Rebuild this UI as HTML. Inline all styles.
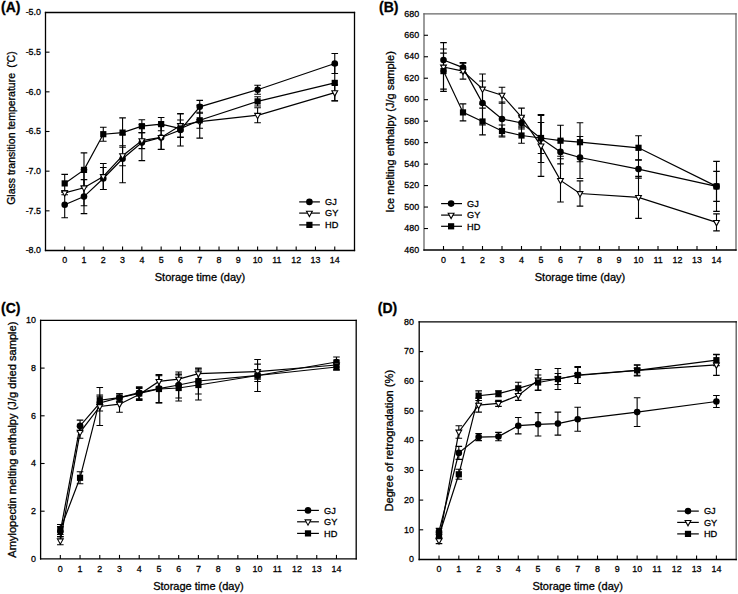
<!DOCTYPE html>
<html><head><meta charset="utf-8"><title>Chart</title>
<style>
html,body{margin:0;padding:0;background:#fff;}
svg{display:block;}
text{font-family:"Liberation Sans", sans-serif;fill:#000;stroke:#000;stroke-width:0.3px;}
</style></head>
<body>
<svg width="738" height="594" viewBox="0 0 738 594">
<rect width="738" height="594" fill="#fff"/>
<line x1="45.5" y1="11.85" x2="45.5" y2="251.15" stroke="#000" stroke-width="1.3"/>
<line x1="354.5" y1="11.85" x2="354.5" y2="251.15" stroke="#000" stroke-width="1.3"/>
<line x1="44.85" y1="12.5" x2="355.15" y2="12.5" stroke="#000" stroke-width="1.3"/>
<line x1="44.85" y1="250.5" x2="355.15" y2="250.5" stroke="#000" stroke-width="1.3"/>
<line x1="64.70" y1="250.5" x2="64.70" y2="246.5" stroke="#000" stroke-width="1.1"/>
<text transform="translate(64.70 262.6) scale(0.9 1)" font-size="9.9" text-anchor="middle">0</text>
<line x1="83.99" y1="250.5" x2="83.99" y2="246.5" stroke="#000" stroke-width="1.1"/>
<text transform="translate(83.99 262.6) scale(0.9 1)" font-size="9.9" text-anchor="middle">1</text>
<line x1="103.28" y1="250.5" x2="103.28" y2="246.5" stroke="#000" stroke-width="1.1"/>
<text transform="translate(103.28 262.6) scale(0.9 1)" font-size="9.9" text-anchor="middle">2</text>
<line x1="122.57" y1="250.5" x2="122.57" y2="246.5" stroke="#000" stroke-width="1.1"/>
<text transform="translate(122.57 262.6) scale(0.9 1)" font-size="9.9" text-anchor="middle">3</text>
<line x1="141.86" y1="250.5" x2="141.86" y2="246.5" stroke="#000" stroke-width="1.1"/>
<text transform="translate(141.86 262.6) scale(0.9 1)" font-size="9.9" text-anchor="middle">4</text>
<line x1="161.15" y1="250.5" x2="161.15" y2="246.5" stroke="#000" stroke-width="1.1"/>
<text transform="translate(161.15 262.6) scale(0.9 1)" font-size="9.9" text-anchor="middle">5</text>
<line x1="180.44" y1="250.5" x2="180.44" y2="246.5" stroke="#000" stroke-width="1.1"/>
<text transform="translate(180.44 262.6) scale(0.9 1)" font-size="9.9" text-anchor="middle">6</text>
<line x1="199.73" y1="250.5" x2="199.73" y2="246.5" stroke="#000" stroke-width="1.1"/>
<text transform="translate(199.73 262.6) scale(0.9 1)" font-size="9.9" text-anchor="middle">7</text>
<line x1="219.02" y1="250.5" x2="219.02" y2="246.5" stroke="#000" stroke-width="1.1"/>
<text transform="translate(219.02 262.6) scale(0.9 1)" font-size="9.9" text-anchor="middle">8</text>
<line x1="238.31" y1="250.5" x2="238.31" y2="246.5" stroke="#000" stroke-width="1.1"/>
<text transform="translate(238.31 262.6) scale(0.9 1)" font-size="9.9" text-anchor="middle">9</text>
<line x1="257.60" y1="250.5" x2="257.60" y2="246.5" stroke="#000" stroke-width="1.1"/>
<text transform="translate(257.60 262.6) scale(0.9 1)" font-size="9.9" text-anchor="middle">10</text>
<line x1="276.89" y1="250.5" x2="276.89" y2="246.5" stroke="#000" stroke-width="1.1"/>
<text transform="translate(276.89 262.6) scale(0.9 1)" font-size="9.9" text-anchor="middle">11</text>
<line x1="296.18" y1="250.5" x2="296.18" y2="246.5" stroke="#000" stroke-width="1.1"/>
<text transform="translate(296.18 262.6) scale(0.9 1)" font-size="9.9" text-anchor="middle">12</text>
<line x1="315.47" y1="250.5" x2="315.47" y2="246.5" stroke="#000" stroke-width="1.1"/>
<text transform="translate(315.47 262.6) scale(0.9 1)" font-size="9.9" text-anchor="middle">13</text>
<line x1="334.76" y1="250.5" x2="334.76" y2="246.5" stroke="#000" stroke-width="1.1"/>
<text transform="translate(334.76 262.6) scale(0.9 1)" font-size="9.9" text-anchor="middle">14</text>
<text transform="translate(41 15.20) scale(0.9 1)" font-size="9.9" text-anchor="end">-5.0</text>
<line x1="45.5" y1="52.17" x2="49.5" y2="52.17" stroke="#000" stroke-width="1.1"/>
<text transform="translate(41 54.87) scale(0.9 1)" font-size="9.9" text-anchor="end">-5.5</text>
<line x1="45.5" y1="91.83" x2="49.5" y2="91.83" stroke="#000" stroke-width="1.1"/>
<text transform="translate(41 94.53) scale(0.9 1)" font-size="9.9" text-anchor="end">-6.0</text>
<line x1="45.5" y1="131.50" x2="49.5" y2="131.50" stroke="#000" stroke-width="1.1"/>
<text transform="translate(41 134.20) scale(0.9 1)" font-size="9.9" text-anchor="end">-6.5</text>
<line x1="45.5" y1="171.17" x2="49.5" y2="171.17" stroke="#000" stroke-width="1.1"/>
<text transform="translate(41 173.87) scale(0.9 1)" font-size="9.9" text-anchor="end">-7.0</text>
<line x1="45.5" y1="210.83" x2="49.5" y2="210.83" stroke="#000" stroke-width="1.1"/>
<text transform="translate(41 213.53) scale(0.9 1)" font-size="9.9" text-anchor="end">-7.5</text>
<text transform="translate(41 253.20) scale(0.9 1)" font-size="9.9" text-anchor="end">-8.0</text>
<text x="200.00" y="281" font-size="11" text-anchor="middle">Storage time (day)</text>
<text transform="translate(14.5,128.10) rotate(-90)" font-size="10.5" text-anchor="middle">Glass transition temperature <tspan dx="2.3">(</tspan><tspan font-size="6" dy="-3.2">°</tspan><tspan dx="-0.6" dy="3.2">C)</tspan></text>
<text x="1.0" y="11.8" font-size="14" font-weight="bold" stroke-width="0">(A)</text>
<path d="M64.70,191.70 V217.70 M61.40,191.70 H68.00 M61.40,217.70 H68.00" stroke="#000" stroke-width="1.1" fill="none"/>
<path d="M83.99,179.60 V213.60 M80.69,179.60 H87.29 M80.69,213.60 H87.29" stroke="#000" stroke-width="1.1" fill="none"/>
<path d="M103.28,167.50 V189.50 M99.98,167.50 H106.58 M99.98,189.50 H106.58" stroke="#000" stroke-width="1.1" fill="none"/>
<path d="M122.57,134.80 V182.80 M119.27,134.80 H125.87 M119.27,182.80 H125.87" stroke="#000" stroke-width="1.1" fill="none"/>
<path d="M141.86,124.60 V160.60 M138.56,124.60 H145.16 M138.56,160.60 H145.16" stroke="#000" stroke-width="1.1" fill="none"/>
<path d="M161.15,125.50 V149.50 M157.85,125.50 H164.45 M157.85,149.50 H164.45" stroke="#000" stroke-width="1.1" fill="none"/>
<path d="M180.44,114.00 V146.00 M177.14,114.00 H183.74 M177.14,146.00 H183.74" stroke="#000" stroke-width="1.1" fill="none"/>
<path d="M199.73,100.40 V113.20 M196.43,100.40 H203.03 M196.43,113.20 H203.03" stroke="#000" stroke-width="1.1" fill="none"/>
<path d="M257.60,85.20 V94.20 M254.30,85.20 H260.90 M254.30,94.20 H260.90" stroke="#000" stroke-width="1.1" fill="none"/>
<path d="M334.76,53.50 V73.50 M331.46,53.50 H338.06 M331.46,73.50 H338.06" stroke="#000" stroke-width="1.1" fill="none"/>
<path d="M64.70,190.80 V194.80 M61.40,190.80 H68.00 M61.40,194.80 H68.00" stroke="#000" stroke-width="1.1" fill="none"/>
<path d="M83.99,169.80 V205.80 M80.69,169.80 H87.29 M80.69,205.80 H87.29" stroke="#000" stroke-width="1.1" fill="none"/>
<path d="M103.28,163.50 V189.50 M99.98,163.50 H106.58 M99.98,189.50 H106.58" stroke="#000" stroke-width="1.1" fill="none"/>
<path d="M122.57,145.70 V165.70 M119.27,145.70 H125.87 M119.27,165.70 H125.87" stroke="#000" stroke-width="1.1" fill="none"/>
<path d="M141.86,132.60 V148.60 M138.56,132.60 H145.16 M138.56,148.60 H145.16" stroke="#000" stroke-width="1.1" fill="none"/>
<path d="M161.15,125.40 V149.40 M157.85,125.40 H164.45 M157.85,149.40 H164.45" stroke="#000" stroke-width="1.1" fill="none"/>
<path d="M180.44,113.50 V137.50 M177.14,113.50 H183.74 M177.14,137.50 H183.74" stroke="#000" stroke-width="1.1" fill="none"/>
<path d="M199.73,105.10 V138.10 M196.43,105.10 H203.03 M196.43,138.10 H203.03" stroke="#000" stroke-width="1.1" fill="none"/>
<path d="M257.60,107.80 V122.80 M254.30,107.80 H260.90 M254.30,122.80 H260.90" stroke="#000" stroke-width="1.1" fill="none"/>
<path d="M334.76,84.70 V100.70 M331.46,84.70 H338.06 M331.46,100.70 H338.06" stroke="#000" stroke-width="1.1" fill="none"/>
<path d="M64.70,174.40 V192.40 M61.40,174.40 H68.00 M61.40,192.40 H68.00" stroke="#000" stroke-width="1.1" fill="none"/>
<path d="M83.99,152.90 V186.90 M80.69,152.90 H87.29 M80.69,186.90 H87.29" stroke="#000" stroke-width="1.1" fill="none"/>
<path d="M103.28,127.20 V141.20 M99.98,127.20 H106.58 M99.98,141.20 H106.58" stroke="#000" stroke-width="1.1" fill="none"/>
<path d="M122.57,117.90 V147.30 M119.27,117.90 H125.87 M119.27,147.30 H125.87" stroke="#000" stroke-width="1.1" fill="none"/>
<path d="M141.86,119.80 V132.60 M138.56,119.80 H145.16 M138.56,132.60 H145.16" stroke="#000" stroke-width="1.1" fill="none"/>
<path d="M161.15,117.50 V130.70 M157.85,117.50 H164.45 M157.85,130.70 H164.45" stroke="#000" stroke-width="1.1" fill="none"/>
<path d="M180.44,120.00 V137.00 M177.14,120.00 H183.74 M177.14,137.00 H183.74" stroke="#000" stroke-width="1.1" fill="none"/>
<path d="M199.73,112.30 V128.30 M196.43,112.30 H203.03 M196.43,128.30 H203.03" stroke="#000" stroke-width="1.1" fill="none"/>
<path d="M257.60,96.80 V106.00 M254.30,96.80 H260.90 M254.30,106.00 H260.90" stroke="#000" stroke-width="1.1" fill="none"/>
<path d="M334.76,64.90 V100.90 M331.46,64.90 H338.06 M331.46,100.90 H338.06" stroke="#000" stroke-width="1.1" fill="none"/>
<polyline points="64.70,204.70 83.99,196.60 103.28,178.50 122.57,158.80 141.86,142.60 161.15,137.50 180.44,130.00 199.73,106.80 257.60,89.70 334.76,63.50" fill="none" stroke="#000" stroke-width="1.2"/>
<polyline points="64.70,192.80 83.99,187.80 103.28,176.50 122.57,155.70 141.86,140.60 161.15,137.40 180.44,125.50 199.73,121.60 257.60,115.30 334.76,92.70" fill="none" stroke="#000" stroke-width="1.2"/>
<polyline points="64.70,183.40 83.99,169.90 103.28,134.20 122.57,132.60 141.86,126.20 161.15,124.10 180.44,128.50 199.73,120.30 257.60,101.40 334.76,82.90" fill="none" stroke="#000" stroke-width="1.2"/>
<circle cx="64.70" cy="204.70" r="3.3" fill="#000"/>
<circle cx="83.99" cy="196.60" r="3.3" fill="#000"/>
<circle cx="103.28" cy="178.50" r="3.3" fill="#000"/>
<circle cx="122.57" cy="158.80" r="3.3" fill="#000"/>
<circle cx="141.86" cy="142.60" r="3.3" fill="#000"/>
<circle cx="161.15" cy="137.50" r="3.3" fill="#000"/>
<circle cx="180.44" cy="130.00" r="3.3" fill="#000"/>
<circle cx="199.73" cy="106.80" r="3.3" fill="#000"/>
<circle cx="257.60" cy="89.70" r="3.3" fill="#000"/>
<circle cx="334.76" cy="63.50" r="3.3" fill="#000"/>
<path d="M61.80,190.90 L67.60,190.90 L64.70,196.20 Z" fill="#fff" stroke="#000" stroke-width="1.1"/>
<path d="M81.09,185.90 L86.89,185.90 L83.99,191.20 Z" fill="#fff" stroke="#000" stroke-width="1.1"/>
<path d="M100.38,174.60 L106.18,174.60 L103.28,179.90 Z" fill="#fff" stroke="#000" stroke-width="1.1"/>
<path d="M119.67,153.80 L125.47,153.80 L122.57,159.10 Z" fill="#fff" stroke="#000" stroke-width="1.1"/>
<path d="M138.96,138.70 L144.76,138.70 L141.86,144.00 Z" fill="#fff" stroke="#000" stroke-width="1.1"/>
<path d="M158.25,135.50 L164.05,135.50 L161.15,140.80 Z" fill="#fff" stroke="#000" stroke-width="1.1"/>
<path d="M177.54,123.60 L183.34,123.60 L180.44,128.90 Z" fill="#fff" stroke="#000" stroke-width="1.1"/>
<path d="M196.83,119.70 L202.63,119.70 L199.73,125.00 Z" fill="#fff" stroke="#000" stroke-width="1.1"/>
<path d="M254.70,113.40 L260.50,113.40 L257.60,118.70 Z" fill="#fff" stroke="#000" stroke-width="1.1"/>
<path d="M331.86,90.80 L337.66,90.80 L334.76,96.10 Z" fill="#fff" stroke="#000" stroke-width="1.1"/>
<rect x="61.60" y="180.30" width="6.20" height="6.20" fill="#000"/>
<rect x="80.89" y="166.80" width="6.20" height="6.20" fill="#000"/>
<rect x="100.18" y="131.10" width="6.20" height="6.20" fill="#000"/>
<rect x="119.47" y="129.50" width="6.20" height="6.20" fill="#000"/>
<rect x="138.76" y="123.10" width="6.20" height="6.20" fill="#000"/>
<rect x="158.05" y="121.00" width="6.20" height="6.20" fill="#000"/>
<rect x="177.34" y="125.40" width="6.20" height="6.20" fill="#000"/>
<rect x="196.63" y="117.20" width="6.20" height="6.20" fill="#000"/>
<rect x="254.50" y="98.30" width="6.20" height="6.20" fill="#000"/>
<rect x="331.66" y="79.80" width="6.20" height="6.20" fill="#000"/>
<line x1="299.2" y1="201.9" x2="319.9" y2="201.9" stroke="#000" stroke-width="1.2"/>
<circle cx="309.40" cy="201.90" r="3.3" fill="#000"/>
<text x="325" y="205.20" font-size="9.2">GJ</text>
<line x1="299.2" y1="213.1" x2="319.9" y2="213.1" stroke="#000" stroke-width="1.2"/>
<path d="M306.50,211.20 L312.30,211.20 L309.40,216.50 Z" fill="#fff" stroke="#000" stroke-width="1.1"/>
<text x="325" y="216.40" font-size="9.2">GY</text>
<line x1="299.2" y1="224.9" x2="319.9" y2="224.9" stroke="#000" stroke-width="1.2"/>
<rect x="306.30" y="221.80" width="6.20" height="6.20" fill="#000"/>
<text x="325" y="228.20" font-size="9.2">HD</text>
<line x1="424.0" y1="13.15" x2="424.0" y2="250.65" stroke="#666" stroke-width="1.3"/>
<line x1="736" y1="13.15" x2="736" y2="250.65" stroke="#666" stroke-width="1.3"/>
<line x1="423.35" y1="13.8" x2="736.65" y2="13.8" stroke="#666" stroke-width="1.3"/>
<line x1="423.35" y1="250" x2="736.65" y2="250" stroke="#000" stroke-width="1.3"/>
<line x1="443.50" y1="250" x2="443.50" y2="246" stroke="#000" stroke-width="1.1"/>
<text transform="translate(443.50 262.7) scale(0.9 1)" font-size="9.9" text-anchor="middle">0</text>
<line x1="463.00" y1="250" x2="463.00" y2="246" stroke="#000" stroke-width="1.1"/>
<text transform="translate(463.00 262.7) scale(0.9 1)" font-size="9.9" text-anchor="middle">1</text>
<line x1="482.50" y1="250" x2="482.50" y2="246" stroke="#000" stroke-width="1.1"/>
<text transform="translate(482.50 262.7) scale(0.9 1)" font-size="9.9" text-anchor="middle">2</text>
<line x1="502.00" y1="250" x2="502.00" y2="246" stroke="#000" stroke-width="1.1"/>
<text transform="translate(502.00 262.7) scale(0.9 1)" font-size="9.9" text-anchor="middle">3</text>
<line x1="521.50" y1="250" x2="521.50" y2="246" stroke="#000" stroke-width="1.1"/>
<text transform="translate(521.50 262.7) scale(0.9 1)" font-size="9.9" text-anchor="middle">4</text>
<line x1="541.00" y1="250" x2="541.00" y2="246" stroke="#000" stroke-width="1.1"/>
<text transform="translate(541.00 262.7) scale(0.9 1)" font-size="9.9" text-anchor="middle">5</text>
<line x1="560.50" y1="250" x2="560.50" y2="246" stroke="#000" stroke-width="1.1"/>
<text transform="translate(560.50 262.7) scale(0.9 1)" font-size="9.9" text-anchor="middle">6</text>
<line x1="580.00" y1="250" x2="580.00" y2="246" stroke="#000" stroke-width="1.1"/>
<text transform="translate(580.00 262.7) scale(0.9 1)" font-size="9.9" text-anchor="middle">7</text>
<line x1="599.50" y1="250" x2="599.50" y2="246" stroke="#000" stroke-width="1.1"/>
<text transform="translate(599.50 262.7) scale(0.9 1)" font-size="9.9" text-anchor="middle">8</text>
<line x1="619.00" y1="250" x2="619.00" y2="246" stroke="#000" stroke-width="1.1"/>
<text transform="translate(619.00 262.7) scale(0.9 1)" font-size="9.9" text-anchor="middle">9</text>
<line x1="638.50" y1="250" x2="638.50" y2="246" stroke="#000" stroke-width="1.1"/>
<text transform="translate(638.50 262.7) scale(0.9 1)" font-size="9.9" text-anchor="middle">10</text>
<line x1="658.00" y1="250" x2="658.00" y2="246" stroke="#000" stroke-width="1.1"/>
<text transform="translate(658.00 262.7) scale(0.9 1)" font-size="9.9" text-anchor="middle">11</text>
<line x1="677.50" y1="250" x2="677.50" y2="246" stroke="#000" stroke-width="1.1"/>
<text transform="translate(677.50 262.7) scale(0.9 1)" font-size="9.9" text-anchor="middle">12</text>
<line x1="697.00" y1="250" x2="697.00" y2="246" stroke="#000" stroke-width="1.1"/>
<text transform="translate(697.00 262.7) scale(0.9 1)" font-size="9.9" text-anchor="middle">13</text>
<line x1="716.50" y1="250" x2="716.50" y2="246" stroke="#000" stroke-width="1.1"/>
<text transform="translate(716.50 262.7) scale(0.9 1)" font-size="9.9" text-anchor="middle">14</text>
<text transform="translate(419.2 16.50) scale(0.9 1)" font-size="9.9" text-anchor="end">680</text>
<line x1="424.0" y1="35.27" x2="428.0" y2="35.27" stroke="#000" stroke-width="1.1"/>
<text transform="translate(419.2 37.97) scale(0.9 1)" font-size="9.9" text-anchor="end">660</text>
<line x1="424.0" y1="56.75" x2="428.0" y2="56.75" stroke="#000" stroke-width="1.1"/>
<text transform="translate(419.2 59.45) scale(0.9 1)" font-size="9.9" text-anchor="end">640</text>
<line x1="424.0" y1="78.22" x2="428.0" y2="78.22" stroke="#000" stroke-width="1.1"/>
<text transform="translate(419.2 80.92) scale(0.9 1)" font-size="9.9" text-anchor="end">620</text>
<line x1="424.0" y1="99.69" x2="428.0" y2="99.69" stroke="#000" stroke-width="1.1"/>
<text transform="translate(419.2 102.39) scale(0.9 1)" font-size="9.9" text-anchor="end">600</text>
<line x1="424.0" y1="121.16" x2="428.0" y2="121.16" stroke="#000" stroke-width="1.1"/>
<text transform="translate(419.2 123.86) scale(0.9 1)" font-size="9.9" text-anchor="end">580</text>
<line x1="424.0" y1="142.64" x2="428.0" y2="142.64" stroke="#000" stroke-width="1.1"/>
<text transform="translate(419.2 145.34) scale(0.9 1)" font-size="9.9" text-anchor="end">560</text>
<line x1="424.0" y1="164.11" x2="428.0" y2="164.11" stroke="#000" stroke-width="1.1"/>
<text transform="translate(419.2 166.81) scale(0.9 1)" font-size="9.9" text-anchor="end">540</text>
<line x1="424.0" y1="185.58" x2="428.0" y2="185.58" stroke="#000" stroke-width="1.1"/>
<text transform="translate(419.2 188.28) scale(0.9 1)" font-size="9.9" text-anchor="end">520</text>
<line x1="424.0" y1="207.05" x2="428.0" y2="207.05" stroke="#000" stroke-width="1.1"/>
<text transform="translate(419.2 209.75) scale(0.9 1)" font-size="9.9" text-anchor="end">500</text>
<line x1="424.0" y1="228.53" x2="428.0" y2="228.53" stroke="#000" stroke-width="1.1"/>
<text transform="translate(419.2 231.23) scale(0.9 1)" font-size="9.9" text-anchor="end">480</text>
<text transform="translate(419.2 252.70) scale(0.9 1)" font-size="9.9" text-anchor="end">460</text>
<text x="580.00" y="281" font-size="11" text-anchor="middle">Storage time (day)</text>
<text transform="translate(393.6,131.90) rotate(-90)" font-size="11" text-anchor="middle">Ice melting enthalpy (J/g sample)</text>
<text x="379.1" y="11.7" font-size="14" font-weight="bold" stroke-width="0">(B)</text>
<path d="M443.50,49.00 V71.00 M440.20,49.00 H446.80 M440.20,71.00 H446.80" stroke="#000" stroke-width="1.1" fill="none"/>
<path d="M463.00,62.60 V72.60 M459.70,62.60 H466.30 M459.70,72.60 H466.30" stroke="#000" stroke-width="1.1" fill="none"/>
<path d="M482.50,81.00 V125.00 M479.20,81.00 H485.80 M479.20,125.00 H485.80" stroke="#000" stroke-width="1.1" fill="none"/>
<path d="M502.00,102.00 V136.00 M498.70,102.00 H505.30 M498.70,136.00 H505.30" stroke="#000" stroke-width="1.1" fill="none"/>
<path d="M521.50,117.00 V129.00 M518.20,117.00 H524.80 M518.20,129.00 H524.80" stroke="#000" stroke-width="1.1" fill="none"/>
<path d="M541.00,114.50 V162.50 M537.70,114.50 H544.30 M537.70,162.50 H544.30" stroke="#000" stroke-width="1.1" fill="none"/>
<path d="M560.50,139.90 V163.90 M557.20,139.90 H563.80 M557.20,163.90 H563.80" stroke="#000" stroke-width="1.1" fill="none"/>
<path d="M580.00,136.50 V178.50 M576.70,136.50 H583.30 M576.70,178.50 H583.30" stroke="#000" stroke-width="1.1" fill="none"/>
<path d="M638.50,160.10 V178.10 M635.20,160.10 H641.80 M635.20,178.10 H641.80" stroke="#000" stroke-width="1.1" fill="none"/>
<path d="M716.50,171.40 V201.40 M713.20,171.40 H719.80 M713.20,201.40 H719.80" stroke="#000" stroke-width="1.1" fill="none"/>
<path d="M443.50,42.60 V91.40 M440.20,42.60 H446.80 M440.20,91.40 H446.80" stroke="#000" stroke-width="1.1" fill="none"/>
<path d="M463.00,63.10 V79.10 M459.70,63.10 H466.30 M459.70,79.10 H466.30" stroke="#000" stroke-width="1.1" fill="none"/>
<path d="M482.50,74.00 V104.00 M479.20,74.00 H485.80 M479.20,104.00 H485.80" stroke="#000" stroke-width="1.1" fill="none"/>
<path d="M502.00,87.20 V103.20 M498.70,87.20 H505.30 M498.70,103.20 H505.30" stroke="#000" stroke-width="1.1" fill="none"/>
<path d="M521.50,108.10 V126.10 M518.20,108.10 H524.80 M518.20,126.10 H524.80" stroke="#000" stroke-width="1.1" fill="none"/>
<path d="M541.00,115.40 V176.40 M537.70,115.40 H544.30 M537.70,176.40 H544.30" stroke="#000" stroke-width="1.1" fill="none"/>
<path d="M560.50,158.80 V202.00 M557.20,158.80 H563.80 M557.20,202.00 H563.80" stroke="#000" stroke-width="1.1" fill="none"/>
<path d="M580.00,180.90 V206.10 M576.70,180.90 H583.30 M576.70,206.10 H583.30" stroke="#000" stroke-width="1.1" fill="none"/>
<path d="M638.50,176.40 V218.40 M635.20,176.40 H641.80 M635.20,218.40 H641.80" stroke="#000" stroke-width="1.1" fill="none"/>
<path d="M716.50,213.90 V230.90 M713.20,213.90 H719.80 M713.20,230.90 H719.80" stroke="#000" stroke-width="1.1" fill="none"/>
<path d="M443.50,53.10 V89.10 M440.20,53.10 H446.80 M440.20,89.10 H446.80" stroke="#000" stroke-width="1.1" fill="none"/>
<path d="M463.00,103.90 V120.90 M459.70,103.90 H466.30 M459.70,120.90 H466.30" stroke="#000" stroke-width="1.1" fill="none"/>
<path d="M482.50,108.10 V134.90 M479.20,108.10 H485.80 M479.20,134.90 H485.80" stroke="#000" stroke-width="1.1" fill="none"/>
<path d="M502.00,125.00 V137.00 M498.70,125.00 H505.30 M498.70,137.00 H505.30" stroke="#000" stroke-width="1.1" fill="none"/>
<path d="M521.50,127.80 V143.20 M518.20,127.80 H524.80 M518.20,143.20 H524.80" stroke="#000" stroke-width="1.1" fill="none"/>
<path d="M541.00,122.50 V153.50 M537.70,122.50 H544.30 M537.70,153.50 H544.30" stroke="#000" stroke-width="1.1" fill="none"/>
<path d="M560.50,125.20 V156.20 M557.20,125.20 H563.80 M557.20,156.20 H563.80" stroke="#000" stroke-width="1.1" fill="none"/>
<path d="M580.00,122.70 V161.70 M576.70,122.70 H583.30 M576.70,161.70 H583.30" stroke="#000" stroke-width="1.1" fill="none"/>
<path d="M638.50,135.80 V159.80 M635.20,135.80 H641.80 M635.20,159.80 H641.80" stroke="#000" stroke-width="1.1" fill="none"/>
<path d="M716.50,161.40 V211.40 M713.20,161.40 H719.80 M713.20,211.40 H719.80" stroke="#000" stroke-width="1.1" fill="none"/>
<polyline points="443.50,60.00 463.00,67.60 482.50,103.00 502.00,119.00 521.50,123.00 541.00,138.50 560.50,151.90 580.00,157.50 638.50,169.10 716.50,186.40" fill="none" stroke="#000" stroke-width="1.2"/>
<polyline points="443.50,67.00 463.00,71.10 482.50,89.00 502.00,95.20 521.50,117.10 541.00,145.90 560.50,180.40 580.00,193.50 638.50,197.40 716.50,222.40" fill="none" stroke="#000" stroke-width="1.2"/>
<polyline points="443.50,71.10 463.00,112.40 482.50,121.50 502.00,131.00 521.50,135.50 541.00,138.00 560.50,140.70 580.00,142.20 638.50,147.80 716.50,186.40" fill="none" stroke="#000" stroke-width="1.2"/>
<circle cx="443.50" cy="60.00" r="3.3" fill="#000"/>
<circle cx="463.00" cy="67.60" r="3.3" fill="#000"/>
<circle cx="482.50" cy="103.00" r="3.3" fill="#000"/>
<circle cx="502.00" cy="119.00" r="3.3" fill="#000"/>
<circle cx="521.50" cy="123.00" r="3.3" fill="#000"/>
<circle cx="541.00" cy="138.50" r="3.3" fill="#000"/>
<circle cx="560.50" cy="151.90" r="3.3" fill="#000"/>
<circle cx="580.00" cy="157.50" r="3.3" fill="#000"/>
<circle cx="638.50" cy="169.10" r="3.3" fill="#000"/>
<circle cx="716.50" cy="186.40" r="3.3" fill="#000"/>
<path d="M440.60,65.10 L446.40,65.10 L443.50,70.40 Z" fill="#fff" stroke="#000" stroke-width="1.1"/>
<path d="M460.10,69.20 L465.90,69.20 L463.00,74.50 Z" fill="#fff" stroke="#000" stroke-width="1.1"/>
<path d="M479.60,87.10 L485.40,87.10 L482.50,92.40 Z" fill="#fff" stroke="#000" stroke-width="1.1"/>
<path d="M499.10,93.30 L504.90,93.30 L502.00,98.60 Z" fill="#fff" stroke="#000" stroke-width="1.1"/>
<path d="M518.60,115.20 L524.40,115.20 L521.50,120.50 Z" fill="#fff" stroke="#000" stroke-width="1.1"/>
<path d="M538.10,144.00 L543.90,144.00 L541.00,149.30 Z" fill="#fff" stroke="#000" stroke-width="1.1"/>
<path d="M557.60,178.50 L563.40,178.50 L560.50,183.80 Z" fill="#fff" stroke="#000" stroke-width="1.1"/>
<path d="M577.10,191.60 L582.90,191.60 L580.00,196.90 Z" fill="#fff" stroke="#000" stroke-width="1.1"/>
<path d="M635.60,195.50 L641.40,195.50 L638.50,200.80 Z" fill="#fff" stroke="#000" stroke-width="1.1"/>
<path d="M713.60,220.50 L719.40,220.50 L716.50,225.80 Z" fill="#fff" stroke="#000" stroke-width="1.1"/>
<rect x="440.40" y="68.00" width="6.20" height="6.20" fill="#000"/>
<rect x="459.90" y="109.30" width="6.20" height="6.20" fill="#000"/>
<rect x="479.40" y="118.40" width="6.20" height="6.20" fill="#000"/>
<rect x="498.90" y="127.90" width="6.20" height="6.20" fill="#000"/>
<rect x="518.40" y="132.40" width="6.20" height="6.20" fill="#000"/>
<rect x="537.90" y="134.90" width="6.20" height="6.20" fill="#000"/>
<rect x="557.40" y="137.60" width="6.20" height="6.20" fill="#000"/>
<rect x="576.90" y="139.10" width="6.20" height="6.20" fill="#000"/>
<rect x="635.40" y="144.70" width="6.20" height="6.20" fill="#000"/>
<rect x="713.40" y="183.30" width="6.20" height="6.20" fill="#000"/>
<line x1="441.1" y1="203.6" x2="462" y2="203.6" stroke="#000" stroke-width="1.2"/>
<circle cx="451.10" cy="203.60" r="3.3" fill="#000"/>
<text x="467" y="206.90" font-size="9.2">GJ</text>
<line x1="441.1" y1="215.1" x2="462" y2="215.1" stroke="#000" stroke-width="1.2"/>
<path d="M448.20,213.20 L454.00,213.20 L451.10,218.50 Z" fill="#fff" stroke="#000" stroke-width="1.1"/>
<text x="467" y="218.40" font-size="9.2">GY</text>
<line x1="441.1" y1="226.3" x2="462" y2="226.3" stroke="#000" stroke-width="1.2"/>
<rect x="448.00" y="223.20" width="6.20" height="6.20" fill="#000"/>
<text x="467" y="229.60" font-size="9.2">HD</text>
<line x1="40.6" y1="319.75" x2="40.6" y2="559.55" stroke="#000" stroke-width="1.3"/>
<line x1="356.2" y1="319.75" x2="356.2" y2="559.55" stroke="#000" stroke-width="1.3"/>
<line x1="39.95" y1="320.4" x2="356.84999999999997" y2="320.4" stroke="#000" stroke-width="1.3"/>
<line x1="39.95" y1="558.9" x2="356.84999999999997" y2="558.9" stroke="#000" stroke-width="1.3"/>
<line x1="60.33" y1="558.9" x2="60.33" y2="554.9" stroke="#000" stroke-width="1.1"/>
<text transform="translate(60.33 572) scale(0.9 1)" font-size="9.9" text-anchor="middle">0</text>
<line x1="80.05" y1="558.9" x2="80.05" y2="554.9" stroke="#000" stroke-width="1.1"/>
<text transform="translate(80.05 572) scale(0.9 1)" font-size="9.9" text-anchor="middle">1</text>
<line x1="99.78" y1="558.9" x2="99.78" y2="554.9" stroke="#000" stroke-width="1.1"/>
<text transform="translate(99.78 572) scale(0.9 1)" font-size="9.9" text-anchor="middle">2</text>
<line x1="119.50" y1="558.9" x2="119.50" y2="554.9" stroke="#000" stroke-width="1.1"/>
<text transform="translate(119.50 572) scale(0.9 1)" font-size="9.9" text-anchor="middle">3</text>
<line x1="139.22" y1="558.9" x2="139.22" y2="554.9" stroke="#000" stroke-width="1.1"/>
<text transform="translate(139.22 572) scale(0.9 1)" font-size="9.9" text-anchor="middle">4</text>
<line x1="158.95" y1="558.9" x2="158.95" y2="554.9" stroke="#000" stroke-width="1.1"/>
<text transform="translate(158.95 572) scale(0.9 1)" font-size="9.9" text-anchor="middle">5</text>
<line x1="178.67" y1="558.9" x2="178.67" y2="554.9" stroke="#000" stroke-width="1.1"/>
<text transform="translate(178.67 572) scale(0.9 1)" font-size="9.9" text-anchor="middle">6</text>
<line x1="198.40" y1="558.9" x2="198.40" y2="554.9" stroke="#000" stroke-width="1.1"/>
<text transform="translate(198.40 572) scale(0.9 1)" font-size="9.9" text-anchor="middle">7</text>
<line x1="218.12" y1="558.9" x2="218.12" y2="554.9" stroke="#000" stroke-width="1.1"/>
<text transform="translate(218.12 572) scale(0.9 1)" font-size="9.9" text-anchor="middle">8</text>
<line x1="237.85" y1="558.9" x2="237.85" y2="554.9" stroke="#000" stroke-width="1.1"/>
<text transform="translate(237.85 572) scale(0.9 1)" font-size="9.9" text-anchor="middle">9</text>
<line x1="257.57" y1="558.9" x2="257.57" y2="554.9" stroke="#000" stroke-width="1.1"/>
<text transform="translate(257.57 572) scale(0.9 1)" font-size="9.9" text-anchor="middle">10</text>
<line x1="277.30" y1="558.9" x2="277.30" y2="554.9" stroke="#000" stroke-width="1.1"/>
<text transform="translate(277.30 572) scale(0.9 1)" font-size="9.9" text-anchor="middle">11</text>
<line x1="297.02" y1="558.9" x2="297.02" y2="554.9" stroke="#000" stroke-width="1.1"/>
<text transform="translate(297.02 572) scale(0.9 1)" font-size="9.9" text-anchor="middle">12</text>
<line x1="316.75" y1="558.9" x2="316.75" y2="554.9" stroke="#000" stroke-width="1.1"/>
<text transform="translate(316.75 572) scale(0.9 1)" font-size="9.9" text-anchor="middle">13</text>
<line x1="336.47" y1="558.9" x2="336.47" y2="554.9" stroke="#000" stroke-width="1.1"/>
<text transform="translate(336.47 572) scale(0.9 1)" font-size="9.9" text-anchor="middle">14</text>
<text transform="translate(36 323.10) scale(0.9 1)" font-size="9.9" text-anchor="end">10</text>
<line x1="40.6" y1="368.10" x2="44.6" y2="368.10" stroke="#000" stroke-width="1.1"/>
<text transform="translate(36 370.80) scale(0.9 1)" font-size="9.9" text-anchor="end">8</text>
<line x1="40.6" y1="415.80" x2="44.6" y2="415.80" stroke="#000" stroke-width="1.1"/>
<text transform="translate(36 418.50) scale(0.9 1)" font-size="9.9" text-anchor="end">6</text>
<line x1="40.6" y1="463.50" x2="44.6" y2="463.50" stroke="#000" stroke-width="1.1"/>
<text transform="translate(36 466.20) scale(0.9 1)" font-size="9.9" text-anchor="end">4</text>
<line x1="40.6" y1="511.20" x2="44.6" y2="511.20" stroke="#000" stroke-width="1.1"/>
<text transform="translate(36 513.90) scale(0.9 1)" font-size="9.9" text-anchor="end">2</text>
<text transform="translate(36 561.60) scale(0.9 1)" font-size="9.9" text-anchor="end">0</text>
<text x="198.40" y="590" font-size="11" text-anchor="middle">Storage time (day)</text>
<text transform="translate(16.2,439.65) rotate(-90)" font-size="11.1" text-anchor="middle">Amylopectin melting enthalpy (J/g dried sample)</text>
<text x="1.1" y="313" font-size="14" font-weight="bold" stroke-width="0">(C)</text>
<path d="M60.33,526.60 V536.60 M57.03,526.60 H63.62 M57.03,536.60 H63.62" stroke="#000" stroke-width="1.1" fill="none"/>
<path d="M80.05,420.10 V431.70 M76.75,420.10 H83.35 M76.75,431.70 H83.35" stroke="#000" stroke-width="1.1" fill="none"/>
<path d="M99.78,395.00 V411.00 M96.48,395.00 H103.08 M96.48,411.00 H103.08" stroke="#000" stroke-width="1.1" fill="none"/>
<path d="M119.50,393.70 V401.70 M116.20,393.70 H122.80 M116.20,401.70 H122.80" stroke="#000" stroke-width="1.1" fill="none"/>
<path d="M139.22,386.70 V398.70 M135.92,386.70 H142.53 M135.92,398.70 H142.53" stroke="#000" stroke-width="1.1" fill="none"/>
<path d="M158.95,374.60 V402.60 M155.65,374.60 H162.25 M155.65,402.60 H162.25" stroke="#000" stroke-width="1.1" fill="none"/>
<path d="M178.67,372.00 V398.00 M175.37,372.00 H181.97 M175.37,398.00 H181.97" stroke="#000" stroke-width="1.1" fill="none"/>
<path d="M198.40,368.00 V394.00 M195.10,368.00 H201.70 M195.10,394.00 H201.70" stroke="#000" stroke-width="1.1" fill="none"/>
<path d="M257.57,359.50 V391.50 M254.27,359.50 H260.88 M254.27,391.50 H260.88" stroke="#000" stroke-width="1.1" fill="none"/>
<path d="M336.47,357.00 V367.00 M333.17,357.00 H339.77 M333.17,367.00 H339.77" stroke="#000" stroke-width="1.1" fill="none"/>
<path d="M60.33,536.80 V544.80 M57.03,536.80 H63.62 M57.03,544.80 H63.62" stroke="#000" stroke-width="1.1" fill="none"/>
<path d="M80.05,426.30 V438.30 M76.75,426.30 H83.35 M76.75,438.30 H83.35" stroke="#000" stroke-width="1.1" fill="none"/>
<path d="M99.78,387.50 V425.50 M96.48,387.50 H103.08 M96.48,425.50 H103.08" stroke="#000" stroke-width="1.1" fill="none"/>
<path d="M119.50,396.20 V412.20 M116.20,396.20 H122.80 M116.20,412.20 H122.80" stroke="#000" stroke-width="1.1" fill="none"/>
<path d="M139.22,388.50 V400.50 M135.92,388.50 H142.53 M135.92,400.50 H142.53" stroke="#000" stroke-width="1.1" fill="none"/>
<path d="M158.95,375.70 V387.10 M155.65,375.70 H162.25 M155.65,387.10 H162.25" stroke="#000" stroke-width="1.1" fill="none"/>
<path d="M178.67,374.10 V384.10 M175.37,374.10 H181.97 M175.37,384.10 H181.97" stroke="#000" stroke-width="1.1" fill="none"/>
<path d="M198.40,368.70 V378.70 M195.10,368.70 H201.70 M195.10,378.70 H201.70" stroke="#000" stroke-width="1.1" fill="none"/>
<path d="M257.57,364.10 V379.10 M254.27,364.10 H260.88 M254.27,379.10 H260.88" stroke="#000" stroke-width="1.1" fill="none"/>
<path d="M336.47,360.00 V370.00 M333.17,360.00 H339.77 M333.17,370.00 H339.77" stroke="#000" stroke-width="1.1" fill="none"/>
<path d="M60.33,524.50 V534.50 M57.03,524.50 H63.62 M57.03,534.50 H63.62" stroke="#000" stroke-width="1.1" fill="none"/>
<path d="M80.05,471.80 V483.80 M76.75,471.80 H83.35 M76.75,483.80 H83.35" stroke="#000" stroke-width="1.1" fill="none"/>
<path d="M99.78,396.20 V404.20 M96.48,396.20 H103.08 M96.48,404.20 H103.08" stroke="#000" stroke-width="1.1" fill="none"/>
<path d="M119.50,393.70 V401.70 M116.20,393.70 H122.80 M116.20,401.70 H122.80" stroke="#000" stroke-width="1.1" fill="none"/>
<path d="M139.22,387.50 V399.50 M135.92,387.50 H142.53 M135.92,399.50 H142.53" stroke="#000" stroke-width="1.1" fill="none"/>
<path d="M158.95,375.00 V403.00 M155.65,375.00 H162.25 M155.65,403.00 H162.25" stroke="#000" stroke-width="1.1" fill="none"/>
<path d="M178.67,375.00 V401.00 M175.37,375.00 H181.97 M175.37,401.00 H181.97" stroke="#000" stroke-width="1.1" fill="none"/>
<path d="M198.40,370.00 V400.00 M195.10,370.00 H201.70 M195.10,400.00 H201.70" stroke="#000" stroke-width="1.1" fill="none"/>
<path d="M257.57,369.50 V381.50 M254.27,369.50 H260.88 M254.27,381.50 H260.88" stroke="#000" stroke-width="1.1" fill="none"/>
<path d="M336.47,364.00 V370.00 M333.17,364.00 H339.77 M333.17,370.00 H339.77" stroke="#000" stroke-width="1.1" fill="none"/>
<polyline points="60.33,531.60 80.05,425.90 99.78,403.00 119.50,397.70 139.22,392.70 158.95,388.60 178.67,385.00 198.40,381.00 257.57,375.50 336.47,362.00" fill="none" stroke="#000" stroke-width="1.2"/>
<polyline points="60.33,540.80 80.05,432.30 99.78,406.50 119.50,404.20 139.22,394.50 158.95,381.40 178.67,379.10 198.40,373.70 257.57,371.60 336.47,365.00" fill="none" stroke="#000" stroke-width="1.2"/>
<polyline points="60.33,529.50 80.05,477.80 99.78,400.20 119.50,397.70 139.22,393.50 158.95,389.00 178.67,388.00 198.40,385.00 257.57,375.50 336.47,367.00" fill="none" stroke="#000" stroke-width="1.2"/>
<circle cx="60.33" cy="531.60" r="3.3" fill="#000"/>
<circle cx="80.05" cy="425.90" r="3.3" fill="#000"/>
<circle cx="99.78" cy="403.00" r="3.3" fill="#000"/>
<circle cx="119.50" cy="397.70" r="3.3" fill="#000"/>
<circle cx="139.22" cy="392.70" r="3.3" fill="#000"/>
<circle cx="158.95" cy="388.60" r="3.3" fill="#000"/>
<circle cx="178.67" cy="385.00" r="3.3" fill="#000"/>
<circle cx="198.40" cy="381.00" r="3.3" fill="#000"/>
<circle cx="257.57" cy="375.50" r="3.3" fill="#000"/>
<circle cx="336.47" cy="362.00" r="3.3" fill="#000"/>
<path d="M57.43,538.90 L63.23,538.90 L60.33,544.20 Z" fill="#fff" stroke="#000" stroke-width="1.1"/>
<path d="M77.15,430.40 L82.95,430.40 L80.05,435.70 Z" fill="#fff" stroke="#000" stroke-width="1.1"/>
<path d="M96.88,404.60 L102.68,404.60 L99.78,409.90 Z" fill="#fff" stroke="#000" stroke-width="1.1"/>
<path d="M116.60,402.30 L122.40,402.30 L119.50,407.60 Z" fill="#fff" stroke="#000" stroke-width="1.1"/>
<path d="M136.32,392.60 L142.12,392.60 L139.22,397.90 Z" fill="#fff" stroke="#000" stroke-width="1.1"/>
<path d="M156.05,379.50 L161.85,379.50 L158.95,384.80 Z" fill="#fff" stroke="#000" stroke-width="1.1"/>
<path d="M175.77,377.20 L181.57,377.20 L178.67,382.50 Z" fill="#fff" stroke="#000" stroke-width="1.1"/>
<path d="M195.50,371.80 L201.30,371.80 L198.40,377.10 Z" fill="#fff" stroke="#000" stroke-width="1.1"/>
<path d="M254.67,369.70 L260.47,369.70 L257.57,375.00 Z" fill="#fff" stroke="#000" stroke-width="1.1"/>
<path d="M333.57,363.10 L339.37,363.10 L336.47,368.40 Z" fill="#fff" stroke="#000" stroke-width="1.1"/>
<rect x="57.23" y="526.40" width="6.20" height="6.20" fill="#000"/>
<rect x="76.95" y="474.70" width="6.20" height="6.20" fill="#000"/>
<rect x="96.68" y="397.10" width="6.20" height="6.20" fill="#000"/>
<rect x="116.40" y="394.60" width="6.20" height="6.20" fill="#000"/>
<rect x="136.12" y="390.40" width="6.20" height="6.20" fill="#000"/>
<rect x="155.85" y="385.90" width="6.20" height="6.20" fill="#000"/>
<rect x="175.57" y="384.90" width="6.20" height="6.20" fill="#000"/>
<rect x="195.30" y="381.90" width="6.20" height="6.20" fill="#000"/>
<rect x="254.47" y="372.40" width="6.20" height="6.20" fill="#000"/>
<rect x="333.37" y="363.90" width="6.20" height="6.20" fill="#000"/>
<line x1="297.1" y1="510.4" x2="318.9" y2="510.4" stroke="#000" stroke-width="1.2"/>
<circle cx="308.00" cy="510.40" r="3.3" fill="#000"/>
<text x="324" y="513.70" font-size="9.2">GJ</text>
<line x1="297.1" y1="521.8" x2="318.9" y2="521.8" stroke="#000" stroke-width="1.2"/>
<path d="M305.10,519.90 L310.90,519.90 L308.00,525.20 Z" fill="#fff" stroke="#000" stroke-width="1.1"/>
<text x="324" y="525.10" font-size="9.2">GY</text>
<line x1="297.1" y1="533.4" x2="318.9" y2="533.4" stroke="#000" stroke-width="1.2"/>
<rect x="304.90" y="530.30" width="6.20" height="6.20" fill="#000"/>
<text x="324" y="536.70" font-size="9.2">HD</text>
<line x1="419.2" y1="321.25" x2="419.2" y2="560.15" stroke="#000" stroke-width="1.3"/>
<line x1="736.2" y1="321.25" x2="736.2" y2="560.15" stroke="#555" stroke-width="1.3"/>
<line x1="418.55" y1="321.9" x2="736.85" y2="321.9" stroke="#000" stroke-width="1.3"/>
<line x1="418.55" y1="559.5" x2="736.85" y2="559.5" stroke="#000" stroke-width="1.3"/>
<line x1="439.01" y1="559.5" x2="439.01" y2="555.5" stroke="#000" stroke-width="1.1"/>
<text transform="translate(439.01 572) scale(0.9 1)" font-size="9.9" text-anchor="middle">0</text>
<line x1="458.82" y1="559.5" x2="458.82" y2="555.5" stroke="#000" stroke-width="1.1"/>
<text transform="translate(458.82 572) scale(0.9 1)" font-size="9.9" text-anchor="middle">1</text>
<line x1="478.64" y1="559.5" x2="478.64" y2="555.5" stroke="#000" stroke-width="1.1"/>
<text transform="translate(478.64 572) scale(0.9 1)" font-size="9.9" text-anchor="middle">2</text>
<line x1="498.45" y1="559.5" x2="498.45" y2="555.5" stroke="#000" stroke-width="1.1"/>
<text transform="translate(498.45 572) scale(0.9 1)" font-size="9.9" text-anchor="middle">3</text>
<line x1="518.26" y1="559.5" x2="518.26" y2="555.5" stroke="#000" stroke-width="1.1"/>
<text transform="translate(518.26 572) scale(0.9 1)" font-size="9.9" text-anchor="middle">4</text>
<line x1="538.08" y1="559.5" x2="538.08" y2="555.5" stroke="#000" stroke-width="1.1"/>
<text transform="translate(538.08 572) scale(0.9 1)" font-size="9.9" text-anchor="middle">5</text>
<line x1="557.89" y1="559.5" x2="557.89" y2="555.5" stroke="#000" stroke-width="1.1"/>
<text transform="translate(557.89 572) scale(0.9 1)" font-size="9.9" text-anchor="middle">6</text>
<line x1="577.70" y1="559.5" x2="577.70" y2="555.5" stroke="#000" stroke-width="1.1"/>
<text transform="translate(577.70 572) scale(0.9 1)" font-size="9.9" text-anchor="middle">7</text>
<line x1="597.51" y1="559.5" x2="597.51" y2="555.5" stroke="#000" stroke-width="1.1"/>
<text transform="translate(597.51 572) scale(0.9 1)" font-size="9.9" text-anchor="middle">8</text>
<line x1="617.33" y1="559.5" x2="617.33" y2="555.5" stroke="#000" stroke-width="1.1"/>
<text transform="translate(617.33 572) scale(0.9 1)" font-size="9.9" text-anchor="middle">9</text>
<line x1="637.14" y1="559.5" x2="637.14" y2="555.5" stroke="#000" stroke-width="1.1"/>
<text transform="translate(637.14 572) scale(0.9 1)" font-size="9.9" text-anchor="middle">10</text>
<line x1="656.95" y1="559.5" x2="656.95" y2="555.5" stroke="#000" stroke-width="1.1"/>
<text transform="translate(656.95 572) scale(0.9 1)" font-size="9.9" text-anchor="middle">11</text>
<line x1="676.76" y1="559.5" x2="676.76" y2="555.5" stroke="#000" stroke-width="1.1"/>
<text transform="translate(676.76 572) scale(0.9 1)" font-size="9.9" text-anchor="middle">12</text>
<line x1="696.58" y1="559.5" x2="696.58" y2="555.5" stroke="#000" stroke-width="1.1"/>
<text transform="translate(696.58 572) scale(0.9 1)" font-size="9.9" text-anchor="middle">13</text>
<line x1="716.39" y1="559.5" x2="716.39" y2="555.5" stroke="#000" stroke-width="1.1"/>
<text transform="translate(716.39 572) scale(0.9 1)" font-size="9.9" text-anchor="middle">14</text>
<text transform="translate(414.0 324.60) scale(0.9 1)" font-size="9.9" text-anchor="end">80</text>
<line x1="419.2" y1="351.60" x2="423.2" y2="351.60" stroke="#000" stroke-width="1.1"/>
<text transform="translate(414.0 354.30) scale(0.9 1)" font-size="9.9" text-anchor="end">70</text>
<line x1="419.2" y1="381.30" x2="423.2" y2="381.30" stroke="#000" stroke-width="1.1"/>
<text transform="translate(414.0 384.00) scale(0.9 1)" font-size="9.9" text-anchor="end">60</text>
<line x1="419.2" y1="411.00" x2="423.2" y2="411.00" stroke="#000" stroke-width="1.1"/>
<text transform="translate(414.0 413.70) scale(0.9 1)" font-size="9.9" text-anchor="end">50</text>
<line x1="419.2" y1="440.70" x2="423.2" y2="440.70" stroke="#000" stroke-width="1.1"/>
<text transform="translate(414.0 443.40) scale(0.9 1)" font-size="9.9" text-anchor="end">40</text>
<line x1="419.2" y1="470.40" x2="423.2" y2="470.40" stroke="#000" stroke-width="1.1"/>
<text transform="translate(414.0 473.10) scale(0.9 1)" font-size="9.9" text-anchor="end">30</text>
<line x1="419.2" y1="500.10" x2="423.2" y2="500.10" stroke="#000" stroke-width="1.1"/>
<text transform="translate(414.0 502.80) scale(0.9 1)" font-size="9.9" text-anchor="end">20</text>
<line x1="419.2" y1="529.80" x2="423.2" y2="529.80" stroke="#000" stroke-width="1.1"/>
<text transform="translate(414.0 532.50) scale(0.9 1)" font-size="9.9" text-anchor="end">10</text>
<text transform="translate(414.0 562.20) scale(0.9 1)" font-size="9.9" text-anchor="end">0</text>
<text x="577.70" y="589.5" font-size="11" text-anchor="middle">Storage time (day)</text>
<text transform="translate(393.2,440.70) rotate(-90)" font-size="11.15" text-anchor="middle">Degree of retrogradation (%)</text>
<text x="377.8" y="313.3" font-size="14" font-weight="bold" stroke-width="0">(D)</text>
<path d="M439.01,528.40 V534.40 M435.71,528.40 H442.31 M435.71,534.40 H442.31" stroke="#000" stroke-width="1.1" fill="none"/>
<path d="M458.82,446.40 V459.40 M455.52,446.40 H462.12 M455.52,459.40 H462.12" stroke="#000" stroke-width="1.1" fill="none"/>
<path d="M478.64,433.60 V440.60 M475.34,433.60 H481.94 M475.34,440.60 H481.94" stroke="#000" stroke-width="1.1" fill="none"/>
<path d="M498.45,432.40 V440.80 M495.15,432.40 H501.75 M495.15,440.80 H501.75" stroke="#000" stroke-width="1.1" fill="none"/>
<path d="M518.26,417.50 V433.90 M514.96,417.50 H521.56 M514.96,433.90 H521.56" stroke="#000" stroke-width="1.1" fill="none"/>
<path d="M538.08,412.60 V436.00 M534.78,412.60 H541.38 M534.78,436.00 H541.38" stroke="#000" stroke-width="1.1" fill="none"/>
<path d="M557.89,412.10 V435.10 M554.59,412.10 H561.19 M554.59,435.10 H561.19" stroke="#000" stroke-width="1.1" fill="none"/>
<path d="M577.70,407.30 V431.30 M574.40,407.30 H581.00 M574.40,431.30 H581.00" stroke="#000" stroke-width="1.1" fill="none"/>
<path d="M637.14,397.70 V426.50 M633.84,397.70 H640.44 M633.84,426.50 H640.44" stroke="#000" stroke-width="1.1" fill="none"/>
<path d="M716.39,395.50 V407.50 M713.09,395.50 H719.69 M713.09,407.50 H719.69" stroke="#000" stroke-width="1.1" fill="none"/>
<path d="M439.01,537.60 V543.60 M435.71,537.60 H442.31 M435.71,543.60 H442.31" stroke="#000" stroke-width="1.1" fill="none"/>
<path d="M458.82,425.70 V438.30 M455.52,425.70 H462.12 M455.52,438.30 H462.12" stroke="#000" stroke-width="1.1" fill="none"/>
<path d="M478.64,398.10 V412.10 M475.34,398.10 H481.94 M475.34,412.10 H481.94" stroke="#000" stroke-width="1.1" fill="none"/>
<path d="M498.45,400.40 V406.40 M495.15,400.40 H501.75 M495.15,406.40 H501.75" stroke="#000" stroke-width="1.1" fill="none"/>
<path d="M518.26,390.40 V400.40 M514.96,390.40 H521.56 M514.96,400.40 H521.56" stroke="#000" stroke-width="1.1" fill="none"/>
<path d="M538.08,369.50 V390.50 M534.78,369.50 H541.38 M534.78,390.50 H541.38" stroke="#000" stroke-width="1.1" fill="none"/>
<path d="M557.89,368.50 V389.50 M554.59,368.50 H561.19 M554.59,389.50 H561.19" stroke="#000" stroke-width="1.1" fill="none"/>
<path d="M577.70,367.50 V383.50 M574.40,367.50 H581.00 M574.40,383.50 H581.00" stroke="#000" stroke-width="1.1" fill="none"/>
<path d="M637.14,365.30 V375.30 M633.84,365.30 H640.44 M633.84,375.30 H640.44" stroke="#000" stroke-width="1.1" fill="none"/>
<path d="M716.39,354.40 V375.40 M713.09,354.40 H719.69 M713.09,375.40 H719.69" stroke="#000" stroke-width="1.1" fill="none"/>
<path d="M439.01,532.70 V538.70 M435.71,532.70 H442.31 M435.71,538.70 H442.31" stroke="#000" stroke-width="1.1" fill="none"/>
<path d="M458.82,469.30 V479.30 M455.52,469.30 H462.12 M455.52,479.30 H462.12" stroke="#000" stroke-width="1.1" fill="none"/>
<path d="M478.64,390.90 V400.50 M475.34,390.90 H481.94 M475.34,400.50 H481.94" stroke="#000" stroke-width="1.1" fill="none"/>
<path d="M498.45,390.70 V396.70 M495.15,390.70 H501.75 M495.15,396.70 H501.75" stroke="#000" stroke-width="1.1" fill="none"/>
<path d="M518.26,382.30 V394.30 M514.96,382.30 H521.56 M514.96,394.30 H521.56" stroke="#000" stroke-width="1.1" fill="none"/>
<path d="M538.08,375.00 V390.00 M534.78,375.00 H541.38 M534.78,390.00 H541.38" stroke="#000" stroke-width="1.1" fill="none"/>
<path d="M557.89,373.50 V384.50 M554.59,373.50 H561.19 M554.59,384.50 H561.19" stroke="#000" stroke-width="1.1" fill="none"/>
<path d="M577.70,366.50 V383.50 M574.40,366.50 H581.00 M574.40,383.50 H581.00" stroke="#000" stroke-width="1.1" fill="none"/>
<path d="M637.14,364.70 V375.90 M633.84,364.70 H640.44 M633.84,375.90 H640.44" stroke="#000" stroke-width="1.1" fill="none"/>
<path d="M716.39,354.80 V365.60 M713.09,354.80 H719.69 M713.09,365.60 H719.69" stroke="#000" stroke-width="1.1" fill="none"/>
<polyline points="439.01,531.40 458.82,452.90 478.64,437.10 498.45,436.60 518.26,425.70 538.08,424.30 557.89,423.60 577.70,419.30 637.14,412.10 716.39,401.50" fill="none" stroke="#000" stroke-width="1.2"/>
<polyline points="439.01,540.60 458.82,432.00 478.64,405.10 498.45,403.40 518.26,395.40 538.08,380.00 557.89,379.00 577.70,375.50 637.14,370.30 716.39,364.90" fill="none" stroke="#000" stroke-width="1.2"/>
<polyline points="439.01,535.70 458.82,474.30 478.64,395.70 498.45,393.70 518.26,388.30 538.08,382.50 557.89,379.00 577.70,375.00 637.14,370.30 716.39,360.20" fill="none" stroke="#000" stroke-width="1.2"/>
<circle cx="439.01" cy="531.40" r="3.3" fill="#000"/>
<circle cx="458.82" cy="452.90" r="3.3" fill="#000"/>
<circle cx="478.64" cy="437.10" r="3.3" fill="#000"/>
<circle cx="498.45" cy="436.60" r="3.3" fill="#000"/>
<circle cx="518.26" cy="425.70" r="3.3" fill="#000"/>
<circle cx="538.08" cy="424.30" r="3.3" fill="#000"/>
<circle cx="557.89" cy="423.60" r="3.3" fill="#000"/>
<circle cx="577.70" cy="419.30" r="3.3" fill="#000"/>
<circle cx="637.14" cy="412.10" r="3.3" fill="#000"/>
<circle cx="716.39" cy="401.50" r="3.3" fill="#000"/>
<path d="M436.11,538.70 L441.91,538.70 L439.01,544.00 Z" fill="#fff" stroke="#000" stroke-width="1.1"/>
<path d="M455.93,430.10 L461.72,430.10 L458.82,435.40 Z" fill="#fff" stroke="#000" stroke-width="1.1"/>
<path d="M475.74,403.20 L481.54,403.20 L478.64,408.50 Z" fill="#fff" stroke="#000" stroke-width="1.1"/>
<path d="M495.55,401.50 L501.35,401.50 L498.45,406.80 Z" fill="#fff" stroke="#000" stroke-width="1.1"/>
<path d="M515.36,393.50 L521.16,393.50 L518.26,398.80 Z" fill="#fff" stroke="#000" stroke-width="1.1"/>
<path d="M535.18,378.10 L540.98,378.10 L538.08,383.40 Z" fill="#fff" stroke="#000" stroke-width="1.1"/>
<path d="M554.99,377.10 L560.79,377.10 L557.89,382.40 Z" fill="#fff" stroke="#000" stroke-width="1.1"/>
<path d="M574.80,373.60 L580.60,373.60 L577.70,378.90 Z" fill="#fff" stroke="#000" stroke-width="1.1"/>
<path d="M634.24,368.40 L640.04,368.40 L637.14,373.70 Z" fill="#fff" stroke="#000" stroke-width="1.1"/>
<path d="M713.49,363.00 L719.29,363.00 L716.39,368.30 Z" fill="#fff" stroke="#000" stroke-width="1.1"/>
<rect x="435.91" y="532.60" width="6.20" height="6.20" fill="#000"/>
<rect x="455.72" y="471.20" width="6.20" height="6.20" fill="#000"/>
<rect x="475.54" y="392.60" width="6.20" height="6.20" fill="#000"/>
<rect x="495.35" y="390.60" width="6.20" height="6.20" fill="#000"/>
<rect x="515.16" y="385.20" width="6.20" height="6.20" fill="#000"/>
<rect x="534.98" y="379.40" width="6.20" height="6.20" fill="#000"/>
<rect x="554.79" y="375.90" width="6.20" height="6.20" fill="#000"/>
<rect x="574.60" y="371.90" width="6.20" height="6.20" fill="#000"/>
<rect x="634.04" y="367.20" width="6.20" height="6.20" fill="#000"/>
<rect x="713.29" y="357.10" width="6.20" height="6.20" fill="#000"/>
<line x1="677.2" y1="511.1" x2="698.8" y2="511.1" stroke="#000" stroke-width="1.2"/>
<circle cx="688.00" cy="511.10" r="3.3" fill="#000"/>
<text x="703.9" y="514.40" font-size="9.2">GJ</text>
<line x1="677.2" y1="522.4" x2="698.8" y2="522.4" stroke="#000" stroke-width="1.2"/>
<path d="M685.10,520.50 L690.90,520.50 L688.00,525.80 Z" fill="#fff" stroke="#000" stroke-width="1.1"/>
<text x="703.9" y="525.70" font-size="9.2">GY</text>
<line x1="677.2" y1="533.9" x2="698.8" y2="533.9" stroke="#000" stroke-width="1.2"/>
<rect x="684.90" y="530.80" width="6.20" height="6.20" fill="#000"/>
<text x="703.9" y="537.20" font-size="9.2">HD</text>
</svg>
</body></html>
